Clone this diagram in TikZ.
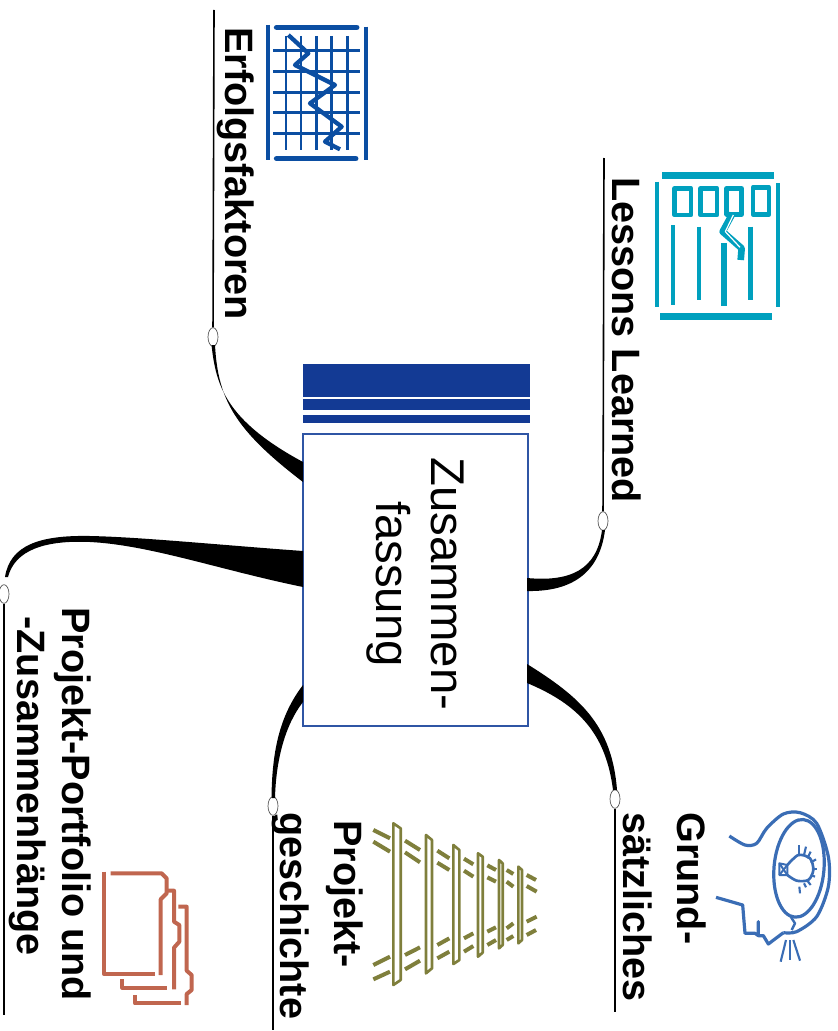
\documentclass[tikz,border=0pt]{standalone}
\usepackage{fontspec}
\setmainfont{Liberation Sans}
\usetikzlibrary{shapes.geometric}
\definecolor{barblue}{HTML}{133A94}
\definecolor{boxblue}{HTML}{2F55A4}
\definecolor{chartblue}{HTML}{0B4EA2}
\definecolor{lessonteal}{HTML}{00A0BE}
\definecolor{headblue}{HTML}{3A6DB5}
\definecolor{railolive}{HTML}{7F7F3C}
\definecolor{foldercopper}{HTML}{C0664F}
\tikzset{
  mainbox/.style={rotate=-90,draw=boxblue,fill=white,line width=1pt,minimum width=219pt,minimum height=168.75pt,align=center,inner sep=0pt,font=\fontsize{35.5}{41}\selectfont},
  headbar/.style={fill=barblue,draw=none},
  knob/.style={ellipse,draw=black!70,fill=white,line width=0.5pt,minimum width=7.5pt,minimum height=14pt,inner sep=0pt},
  leader/.style={draw=black,line width=1.2pt},
  topic/.style={rotate=-90,anchor=base west,align=left,inner sep=0pt,font=\fontsize{29.7}{41}\selectfont\bfseries},
  icon/.style={line cap=butt,line join=round}
}
\begin{document}
\begin{tikzpicture}[x=0.75pt,y=-0.75pt]
    \useasboundingbox (0,0) rectangle (838,1031);

    \node[mainbox] (main) at (415.5,580) {\hspace*{6pt}Zusammen-\\\hspace*{6pt}fassung};
    \fill[headbar] (303,364) rectangle (530,397);
    \fill[headbar] (303,399) rectangle (530,410);
    \fill[headbar] (303,415) rectangle (530,423);

    \node[knob] (erfolgknob) at (213,337) {};
    \node[knob] (lessonknob) at (603,521) {};
    \node[knob] (grundknob) at (615,799) {};
    \node[knob] (geschichteknob) at (273,806) {};
    \node[knob] (portfolioknob) at (4,594) {};

    \coordinate (erfolgend) at (214,10);
    \coordinate (lessonend) at (604,158);
    \coordinate (grundend) at (615,1012);
    \coordinate (geschichteend) at (273,1030);
    \coordinate (portfolioend) at (4,1015);

    \draw[leader] (erfolgknob) -- (erfolgend);
    \draw[leader] (lessonknob) -- (lessonend);
    \draw[leader] (grundknob) -- (grundend);
    \draw[leader] (geschichteknob) -- (geschichteend);
    \draw[leader] (portfolioknob) -- (portfolioend);

    \fill (211.5,345) .. controls (216,385) and (225,420) .. (303,462) -- (303,482) .. controls (235,430) and (218,400) .. (215,345) -- cycle;
    \fill (602,530) .. controls (597,570) and (570,582) .. (527,578) -- (527,591) .. controls (575,592) and (600,570) .. (605,530) -- cycle;
    \fill (527,664) .. controls (580,697) and (612,725) .. (617,790) -- (613,790) .. controls (606,735) and (580,705) .. (527,683) -- cycle;
    \fill (303,685) .. controls (280,715) and (272,750) .. (271.5,798) -- (275,798) .. controls (276,760) and (285,725) .. (303,702) -- cycle;
    \fill (5,577) .. controls (10,545) and (40,535) .. (90,536) .. controls (140,537) and (220,545) .. (303,551) -- (303,587) .. controls (220,570) and (150,545) .. (90,542) .. controls (45,540) and (15,550) .. (8,577) -- cycle;

    \node[topic] (erfolglabel) at (225,27) {Erfolgsfaktoren};
    \node[topic] (lessonlabel) at (612,177) {Lessons Learned};
    \node[topic] (grundlabel) at (623,812) {Grund-\\sätzliches};
    \node[topic] (geschichtelabel) at (280,812) {\hspace*{6pt}Projekt-\\geschichte};
    \node[topic,font=\fontsize{29.7}{34}\selectfont\bfseries] (portfoliolabel) at (17,607) {Projekt-Portfolio und\\\hspace*{7pt}-Zusammenhänge};

    \begin{scope}[shift={(200,0)},scale=1/3,chartblue,icon]
        \draw[line width=3pt] (205,75) -- (205,480);
        \draw[line width=3pt] (498,80) -- (498,480);
        \draw[line width=4.2pt,line cap=round] (230,82) -- (470,82);
        \draw[line width=4.2pt,line cap=round] (230,476) -- (467,476);
        \foreach \gridy in {152,215,277,338,400}
            \draw[line width=2pt] (220,\gridy) -- (480,\gridy);
        \foreach \gridx in {258,303,350,395,442}
            \draw[line width=2pt] (\gridx,108) -- (\gridx,450);
        \draw[line width=3.2pt] (265,105) -- (325,160) -- (285,195) -- (405,255) -- (330,310) -- (425,380) -- (375,425) -- (420,448);
    \end{scope}

    \begin{scope}[shift={(640,150)},scale=1/3,lessonteal,icon]
        \fill (65,65) rectangle (401,86);
        \fill (61,490) rectangle (397,511);
        \draw[line width=3pt] (52,95) -- (52,470);
        \draw[line width=3pt] (415,100) -- (415,470);
        \draw[line width=3.4pt] (104,115) rectangle (153,195);
        \draw[line width=3.4pt] (182,115) rectangle (231,195);
        \draw[line width=3.4pt] (260,115) rectangle (305,193);
        \draw[line width=3.4pt] (339,112) rectangle (387,193);
        \draw[line width=3pt] (98,225) -- (98,465);
        \draw[line width=3pt] (177,230) -- (177,451);
        \draw[line width=4pt] (252,280) -- (252,467);
        \draw[line width=4pt] (331,230) -- (331,451);
        \draw[line width=5pt] (278,190) -- (248,245) -- (305,295) -- (302,330);
        \draw[white,line width=0.9pt] (280,195) -- (256,245) -- (300,292);
    \end{scope}

    \begin{scope}[shift={(700,790)},scale=1/3,headblue,icon]
        \draw[line width=2.4pt] plot[smooth] coordinates {(88,138) (135,165) (170,160) (200,115) (250,72) (300,68) (350,100) (385,200) (385,290) (350,380) (290,425) (250,428)};
        \draw[line width=2.4pt] (250,428) -- (205,462) -- (190,437) -- (175,437) -- (175,395) -- (175,437) -- (165,430) -- (135,430) -- (128,345) -- (48,322);
        \draw[line width=2.4pt,rotate around={-5:(297,235)}] (297,235) ellipse (75 and 147);
        \draw[line width=1.8pt] (272,380) -- (285,400) -- (275,420);
        \draw[line width=2pt] plot[smooth] coordinates {(262,225) (295,195) (330,205) (340,240) (325,270) (290,272) (262,255)};
        \draw[line width=1.5pt] (238,220) -- (262,225) -- (262,255) -- (238,255) -- cycle;
        \draw[line width=1.5pt] (238,220) -- (262,255);
        \draw[line width=1.5pt] (238,255) -- (262,225);
        \foreach \rayax/\rayay/\raybx/\rayby in {298/165/298/195,318/170/312/195,332/185/322/205,348/208/332/218,350/238/338/238,345/260/332/255,332/285/322/272,318/292/312/280,300/310/298/290,258/450/242/515,270/450/270/510,280/450/300/512}
            \draw[line width=1.6pt] (\rayax,\rayay) -- (\raybx,\rayby);
    \end{scope}

    \begin{scope}[shift={(350,800)},scale=1/3,railolive,icon]
        \foreach \slla/\sllb/\sltl/\sltr/\slbr/\slbl in {130/152/70/85/540/555,228/246/105/120/505/520,310/328/135/150/480/492,384/398/160/170/458/470,447/458/180/190/435/445,505/516/200/210/420/430}
            \draw[line width=2pt] (\slla,\sltl) -- (\sllb,\sltr) -- (\sllb,\slbr) -- (\slla,\slbl) -- cycle;
        \foreach \railax/\railay/\railbx/\railby in {70/90/120/115,70/125/120/155,165/122/210/150,165/157/210/187,262/152/298/175,262/188/298/210,342/176/370/193,342/212/370/230,412/196/438/210,412/232/438/245,470/210/490/222,470/245/490/260,530/225/558/240,530/258/560/275,70/495/120/470,70/538/120/515,165/465/210/442,165/508/210/482,262/435/298/415,262/475/298/455,342/415/370/400,342/455/370/438,412/395/438/382,412/435/438/420,470/385/490/370,470/420/490/408,530/365/560/350,530/405/558/390}
            \draw[line width=3pt] (\railax,\railay) -- (\railbx,\railby);
    \end{scope}

    \begin{scope}[shift={(90,850)},scale=1/3,foldercopper,icon]
        \draw[line width=3pt] (43,65) -- (43,373) -- (195,373);
        \draw[line width=3pt] (62,70) -- (215,70) -- (230,85) -- (230,130) -- (212,148) -- (212,375);
        \draw[line width=3pt] (230,122) -- (252,122) -- (252,215) -- (268,225) -- (268,275) -- (252,293) -- (252,418);
        \draw[line width=3pt] (97,388) -- (97,413) -- (232,413);
        \draw[line width=3pt] (265,170) -- (290,170) -- (290,362) -- (305,375) -- (305,420) -- (290,432) -- (290,465);
        \draw[line width=3pt] (135,435) -- (135,460) -- (272,460);
    \end{scope}
\end{tikzpicture}
\end{document}
